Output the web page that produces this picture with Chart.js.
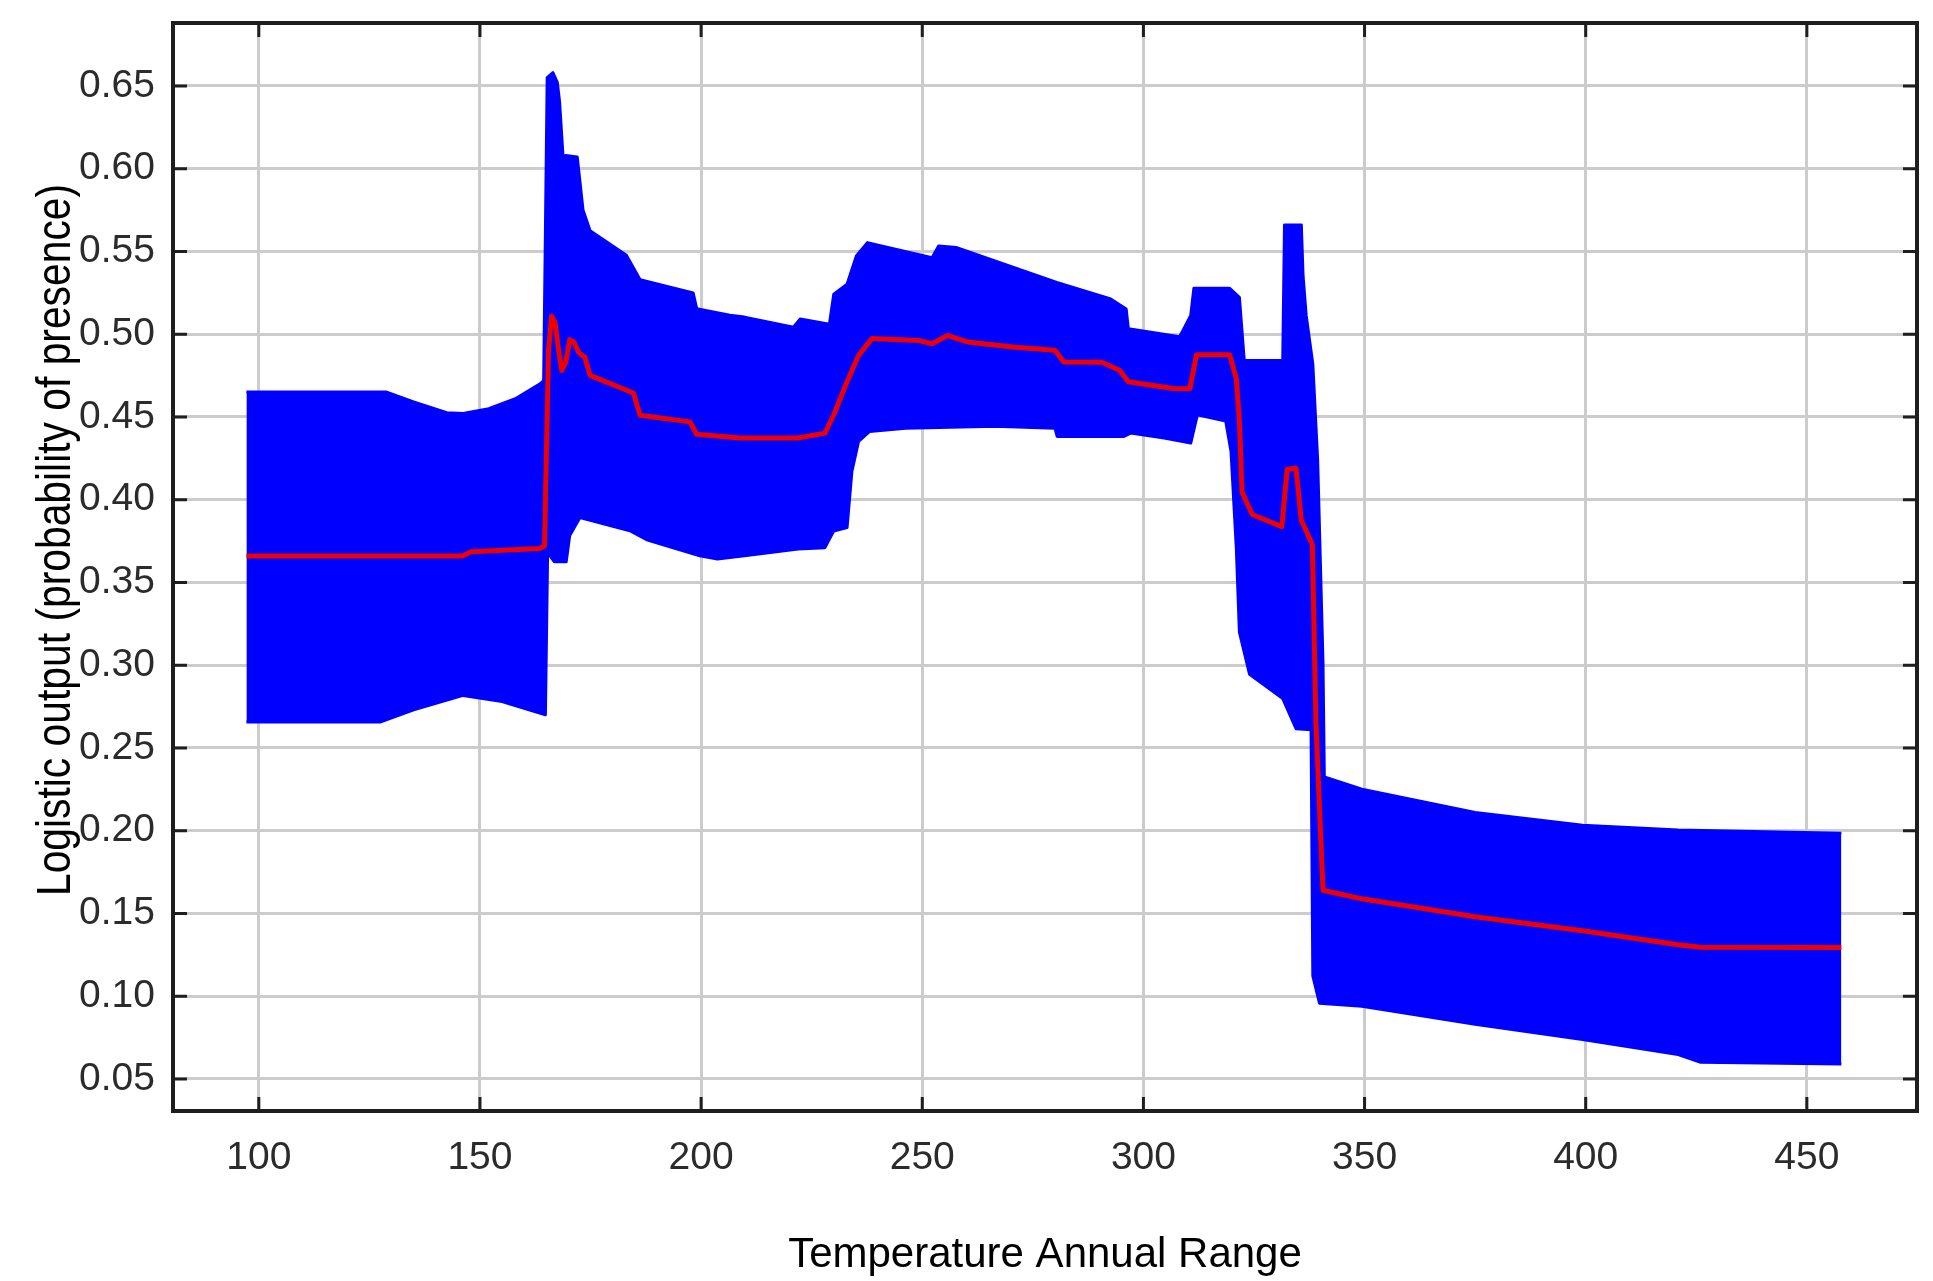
<!DOCTYPE html>
<html>
<head>
<meta charset="utf-8">
<title>Temperature Annual Range response</title>
<script src="https://cdn.jsdelivr.net/npm/chart.js"></script>
<style>
    html, body { margin: 0; padding: 0; background: #ffffff; }
    canvas { display: block; }
</style>
</head>
<body>
<canvas id="responseChart" width="1933" height="1281"></canvas>
<script>
// 축 눈금
var xTicks = [100, 150, 200, 250, 300, 350, 400, 450];
var yTicks = [0.05, 0.10, 0.15, 0.20, 0.25, 0.30, 0.35, 0.40, 0.45, 0.50, 0.55, 0.60, 0.65];

// 평균 응답 (빨간 선)
var meanX = [97.2, 146, 148, 163.5, 164.6, 165.5, 166.2, 167, 167.8, 168.5, 169.4, 170.3, 171.3, 172.3, 173.7, 174.9, 184.7, 186.2, 197.5, 199,
    208.8, 221.9, 228, 230, 233, 235.6, 238.6, 249.2, 252.2, 255.7, 260.3, 270.4, 280, 282, 290.6, 294.6, 296.6, 306.7, 310.5, 312,
    319.5, 321, 321.7, 322.3, 324.6, 331.3, 332.5, 334.5, 335.7, 338.2, 339, 340.6, 349.4, 375, 399.3, 420.9, 426, 457.8];
var meanY = [0.366, 0.366, 0.3685, 0.3705, 0.372, 0.49, 0.511, 0.507, 0.49, 0.478, 0.483, 0.4967, 0.495, 0.489, 0.486, 0.4751, 0.4644, 0.451, 0.447, 0.4395,
    0.4372, 0.4372, 0.4402, 0.4513, 0.4713, 0.4872, 0.4973, 0.4962, 0.4942, 0.4992, 0.4952, 0.4922, 0.4902, 0.4832, 0.483, 0.4782, 0.4712, 0.4672, 0.467, 0.4876,
    0.4876, 0.473, 0.4475, 0.4045, 0.391, 0.3837, 0.4184, 0.419, 0.3875, 0.3728, 0.2653, 0.164, 0.1588, 0.148, 0.1395, 0.1311, 0.1295, 0.1294];

// 평균 + 표준편차 (파란 영역 위쪽)
var upperX = [97.2, 128.9, 135, 142.5, 146.2, 152, 158, 163.6, 164.4, 164.8, 165.2, 166.5, 167.5, 168, 168.6, 169, 169.4, 172, 173.3, 174.9,
    183.1, 186.2, 198.2, 199, 206.5, 209.8, 220.9, 222.4, 229, 230, 233, 235.1, 237.6, 252.2, 253.7, 257.8, 280.4, 292.6, 296.1, 296.6,
    308.2, 310.7, 311.4, 319.5, 321.7, 322.8, 331.5, 331.9, 335.7, 336.1, 336.8, 338.3, 339.4, 340.6, 340.9, 349.4, 375, 399.3, 420.9, 457.8];
var upperY = [0.465, 0.465, 0.459, 0.4525, 0.452, 0.455, 0.461, 0.47, 0.472, 0.5625, 0.655, 0.658, 0.652, 0.6405, 0.615, 0.598, 0.608, 0.607, 0.575, 0.5625,
    0.5477, 0.5329, 0.5249, 0.5154, 0.5114, 0.5103, 0.5042, 0.5092, 0.506, 0.5242, 0.5302, 0.5472, 0.5553, 0.5462, 0.5532, 0.5523, 0.5312, 0.5213, 0.5152, 0.5032,
    0.4985, 0.5113, 0.5277, 0.5277, 0.5223, 0.484, 0.484, 0.566, 0.566, 0.535, 0.5113, 0.482, 0.4238, 0.3018, 0.2324, 0.2251, 0.211, 0.2033, 0.2004, 0.1985];

// 평균 - 표준편차 (파란 영역 아래쪽)
var lowerX = [97.2, 127.4, 135, 146.2, 155, 164.8, 165.3, 166.8, 169.5, 170.3, 172.6, 183.9, 187.7, 199.7, 203.7, 209.8, 221.9, 228, 230, 233,
    234.1, 235.6, 238.1, 246.2, 266.4, 280, 280.5, 295.6, 297.1, 304.7, 310.7, 312.2, 318.6, 319.8, 321, 321.7, 324, 331.5, 334.5, 337.9,
    338.3, 339.8, 349.4, 375, 399.3, 420.9, 426, 457.8];
var lowerY = [0.2656, 0.2656, 0.273, 0.2817, 0.278, 0.27, 0.368, 0.3625, 0.3625, 0.3784, 0.3892, 0.3812, 0.3758, 0.3661, 0.3641, 0.3661, 0.3701, 0.371, 0.3811, 0.3831,
    0.4172, 0.4352, 0.4412, 0.4432, 0.4443, 0.4432, 0.4382, 0.4382, 0.4402, 0.4372, 0.4342, 0.4512, 0.4475, 0.4293, 0.371, 0.3199, 0.2944, 0.2798, 0.2616, 0.261,
    0.1122, 0.0957, 0.0939, 0.083, 0.0738, 0.0647, 0.060, 0.059];

function toPoints(xs, ys) {
    return xs.map(function (x, i) { return { x: x, y: ys[i] }; });
}

var tickFont = { family: '"Liberation Sans", Arial, sans-serif', size: 39 };

// 테두리 + 안쪽 눈금 + 세로축 제목
var framePlugin = {
    id: 'frame',
    afterDraw: function (chart) {
        var c = chart.ctx, a = chart.chartArea;
        var xs = chart.scales.x, ys = chart.scales.y;
        c.save();
        c.strokeStyle = '#1e1e1e';
        c.lineWidth = 3;
        c.beginPath();
        xs.ticks.forEach(function (t) {
            var px = xs.getPixelForValue(t.value);
            c.moveTo(px, a.bottom); c.lineTo(px, a.bottom - 14);
            c.moveTo(px, a.top); c.lineTo(px, a.top + 14);
        });
        ys.ticks.forEach(function (t) {
            var py = ys.getPixelForValue(t.value);
            c.moveTo(a.left, py); c.lineTo(a.left + 14, py);
            c.moveTo(a.right, py); c.lineTo(a.right - 14, py);
        });
        c.stroke();
        c.lineWidth = 4;
        c.strokeRect(a.left, a.top, a.right - a.left, a.bottom - a.top);

        // 좁은 글꼴 느낌으로 가로만 줄임
        c.translate(70, (a.top + a.bottom) / 2 - 27);
        c.rotate(-Math.PI / 2);
        c.scale(0.85, 1);
        c.fillStyle = '#000000';
        c.font = '48px "Liberation Sans", Arial, sans-serif';
        c.textAlign = 'center';
        c.textBaseline = 'alphabetic';
        c.fillText('Logistic output (probability of presence)', 0, 0);
        c.restore();
    }
};

var ctx = document.getElementById('responseChart').getContext('2d');
var chart = new Chart(ctx, {
    type: 'line',
    data: {
        datasets: [{
            data: toPoints(upperX, upperY),
            borderColor: '#0000ff',
            backgroundColor: '#0000ff',
            borderWidth: 3,
            borderJoinStyle: 'round',
            fill: '+1', // 아래쪽 선까지 채움
            order: 1
        }, {
            data: toPoints(lowerX, lowerY),
            borderColor: '#0000ff',
            borderWidth: 3,
            borderJoinStyle: 'round',
            fill: false,
            order: 1
        }, {
            data: toPoints(meanX, meanY),
            borderColor: '#ee0000',
            borderWidth: 5,
            borderJoinStyle: 'round',
            fill: false,
            order: 0 // 맨 위에 그림
        }]
    },
    options: {
        responsive: false,
        animation: false,
        layout: { padding: { top: 23, right: 16, left: 0, bottom: 0 } },
        elements: { point: { radius: 0 }, line: { tension: 0 } },
        plugins: {
            legend: { display: false },
            tooltip: { enabled: false }
        },
        scales: {
            x: {
                type: 'linear',
                min: 80.6,
                max: 474.9,
                afterBuildTicks: function (s) { s.ticks = xTicks.map(function (v) { return { value: v }; }); },
                afterFit: function (s) { s.height = 170; s.paddingLeft = 0; s.paddingRight = 0; },
                border: { display: false },
                grid: { color: '#cccccc', lineWidth: 3, drawTicks: false },
                ticks: { font: tickFont, color: '#2b2b2b', padding: 24, autoSkip: false, maxRotation: 0 },
                title: {
                    display: true,
                    text: 'Temperature Annual Range',
                    color: '#000000',
                    font: { family: '"Liberation Sans", Arial, sans-serif', size: 42 },
                    padding: 0
                }
            },
            y: {
                min: 0.0306,
                max: 0.688,
                afterBuildTicks: function (s) { s.ticks = yTicks.map(function (v) { return { value: v }; }); },
                afterFit: function (s) { s.width = 173; s.paddingTop = 0; s.paddingBottom = 0; },
                border: { display: false },
                grid: { color: '#cccccc', lineWidth: 3, drawTicks: false },
                ticks: {
                    font: tickFont, color: '#2b2b2b', padding: 18, autoSkip: false,
                    callback: function (v) { return Number(v).toFixed(2); }
                }
            }
        }
    },
    plugins: [framePlugin]
});
</script>
</body>
</html>
